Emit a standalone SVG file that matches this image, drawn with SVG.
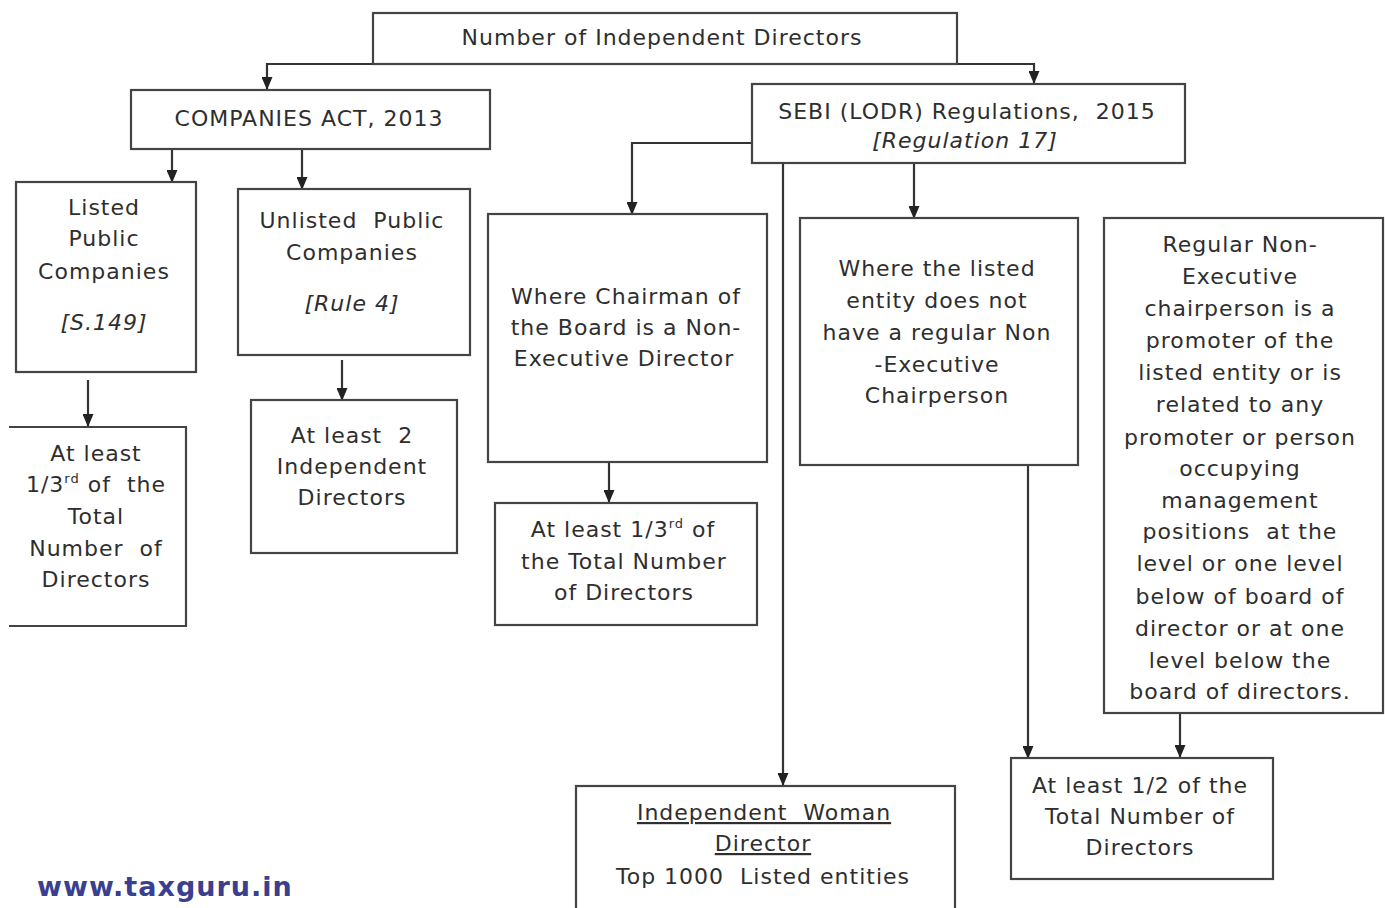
<svg xmlns="http://www.w3.org/2000/svg" width="1385" height="908" viewBox="0 0 1385 908">
  <style>
    .box { fill: #ffffff; stroke: #444444; stroke-width: 2.2; }
    .t { font-family: "DejaVu Sans", Verdana, sans-serif; font-size: 22px; fill: #2e2e2e; text-anchor: middle; letter-spacing: 1px; white-space: pre; }
    .it { font-style: italic; }
    .u { text-decoration: underline; }
    .sup { font-size: 13px; }
    .wire { fill: none; stroke: #333333; stroke-width: 2.2; }
    .mark { font-family: "DejaVu Sans", Verdana, sans-serif; font-size: 27px; font-weight: bold; fill: #3a3f8f; letter-spacing: 1px; }
  </style>
  <defs>
    <marker id="arrow" viewBox="0 0 13 11" markerWidth="13" markerHeight="11" refX="13" refY="5.5" orient="auto" markerUnits="userSpaceOnUse">
      <path d="M0,0 L13,5.5 L0,11 z" fill="#222222"/>
    </marker>
  </defs>
  <rect width="1385" height="908" fill="#ffffff"/>

  <!-- connectors -->
  <g id="connectors">
    <path class="wire" d="M373,64 H625"/>
    <path class="wire" d="M625,64 H267 V90" marker-end="url(#arrow)"/>
    <path class="wire" d="M625,64 H1034 V84" marker-end="url(#arrow)"/>
    <path class="wire" d="M172,149 V183" marker-end="url(#arrow)"/>
    <path class="wire" d="M302,149 V190" marker-end="url(#arrow)"/>
    <path class="wire" d="M88,380 V427" marker-end="url(#arrow)"/>
    <path class="wire" d="M342,360 V401" marker-end="url(#arrow)"/>
    <path class="wire" d="M752,143 H632 V215" marker-end="url(#arrow)"/>
    <path class="wire" d="M609,462 V503" marker-end="url(#arrow)"/>
    <path class="wire" d="M783,163 V786" marker-end="url(#arrow)"/>
    <path class="wire" d="M914,163 V219" marker-end="url(#arrow)"/>
    <path class="wire" d="M1028,465 V759" marker-end="url(#arrow)"/>
    <path class="wire" d="M1180,713 V758" marker-end="url(#arrow)"/>
  </g>

  <g id="root">
    <rect class="box" x="373" y="13" width="584" height="51"/>
    <text class="t" x="662" y="45">Number of Independent Directors</text>
  </g>

  <g id="companies-act">
    <rect class="box" x="131" y="90" width="359" height="59"/>
    <text class="t" x="309" y="126">COMPANIES ACT, 2013</text>
  </g>

  <g id="sebi">
    <rect class="box" x="752" y="84" width="433" height="79"/>
    <text class="t" x="967" y="119">SEBI (LODR) Regulations,  2015</text>
    <text class="t it" x="965" y="148">[Regulation 17]</text>
  </g>

  <g id="listed">
    <rect class="box" x="16" y="182" width="180" height="190"/>
    <text class="t" x="104" y="215">Listed</text>
    <text class="t" x="104" y="246">Public</text>
    <text class="t" x="104" y="279">Companies</text>
    <text class="t it" x="104" y="330">[S.149]</text>
  </g>

  <g id="unlisted">
    <rect class="box" x="238" y="189" width="232" height="166"/>
    <text class="t" x="352" y="228">Unlisted  Public</text>
    <text class="t" x="352" y="260">Companies</text>
    <text class="t it" x="352" y="311">[Rule 4]</text>
  </g>

  <g id="listed-result">
    <path class="box" d="M9,427 H186 V626 H9"/>
    <text class="t" x="96" y="461">At least</text>
    <text class="t" x="96" y="492">1/3<tspan class="sup" dy="-9">rd</tspan><tspan dy="9"> of  the</tspan></text>
    <text class="t" x="96" y="524">Total</text>
    <text class="t" x="96" y="556">Number  of</text>
    <text class="t" x="96" y="587">Directors</text>
  </g>

  <g id="unlisted-result">
    <rect class="box" x="251" y="400" width="206" height="153"/>
    <text class="t" x="352" y="443">At least  2</text>
    <text class="t" x="352" y="474">Independent</text>
    <text class="t" x="352" y="505">Directors</text>
  </g>

  <g id="non-exec-chair">
    <rect class="box" x="488" y="214" width="279" height="248"/>
    <text class="t" x="626" y="304">Where Chairman of</text>
    <text class="t" x="626" y="335">the Board is a Non-</text>
    <text class="t" x="624" y="366">Executive Director</text>
  </g>

  <g id="non-exec-result">
    <rect class="box" x="495" y="503" width="262" height="122"/>
    <text class="t" x="623" y="537">At least 1/3<tspan class="sup" dy="-9">rd</tspan><tspan dy="9"> of</tspan></text>
    <text class="t" x="624" y="569">the Total Number</text>
    <text class="t" x="624" y="600">of Directors</text>
  </g>

  <g id="no-regular-chair">
    <rect class="box" x="800" y="218" width="278" height="247"/>
    <text class="t" x="937" y="276">Where the listed</text>
    <text class="t" x="937" y="308">entity does not</text>
    <text class="t" x="937" y="340">have a regular Non</text>
    <text class="t" x="937" y="372">-Executive</text>
    <text class="t" x="937" y="403">Chairperson</text>
  </g>

  <g id="promoter-chair">
    <rect class="box" x="1104" y="218" width="279" height="495"/>
    <text class="t" x="1240" y="252">Regular Non-</text>
    <text class="t" x="1240" y="284">Executive</text>
    <text class="t" x="1240" y="316">chairperson is a</text>
    <text class="t" x="1240" y="348">promoter of the</text>
    <text class="t" x="1240" y="380">listed entity or is</text>
    <text class="t" x="1240" y="412">related to any</text>
    <text class="t" x="1240" y="445">promoter or person</text>
    <text class="t" x="1240" y="476">occupying</text>
    <text class="t" x="1240" y="508">management</text>
    <text class="t" x="1240" y="539">positions  at the</text>
    <text class="t" x="1240" y="571">level or one level</text>
    <text class="t" x="1240" y="604">below of board of</text>
    <text class="t" x="1240" y="636">director or at one</text>
    <text class="t" x="1240" y="668">level below the</text>
    <text class="t" x="1240" y="699">board of directors.</text>
  </g>

  <g id="woman-director">
    <rect class="box" x="576" y="786" width="379" height="132"/>
    <text class="t u" x="764" y="820">Independent  Woman</text>
    <text class="t u" x="763" y="851">Director</text>
    <text class="t" x="763" y="884">Top 1000  Listed entities</text>
  </g>

  <g id="half-result">
    <rect class="box" x="1011" y="758" width="262" height="121"/>
    <text class="t" x="1140" y="793">At least 1/2 of the</text>
    <text class="t" x="1140" y="824">Total Number of</text>
    <text class="t" x="1140" y="855">Directors</text>
  </g>

  <text class="mark" x="37" y="896">www.taxguru.in</text>
</svg>
